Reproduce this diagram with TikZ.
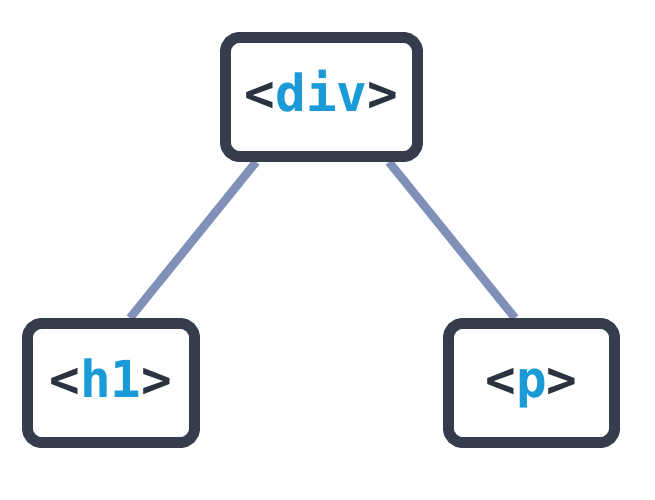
\documentclass[tikz,border=0pt]{standalone}
\usepackage{fontspec}
\setmonofont{DejaVu Sans Mono}
\usetikzlibrary{backgrounds}
\definecolor{boxdark}{HTML}{353D4D}
\definecolor{tagdark}{HTML}{2C3340}
\definecolor{tagblue}{HTML}{1A9BD7}
\definecolor{linkblue}{HTML}{8090B8}
\tikzset{
  tagbox/.style={draw=boxdark, line width=6.2pt, rounded corners=0.28cm, fill=white,
    minimum height=2.38cm, inner sep=0pt, text height=22pt, text depth=6pt,
    font=\ttfamily\bfseries\fontsize{29}{30}\selectfont},
  link/.style={draw=linkblue, line width=4.8pt}
}
\newcommand{\tagname}[1]{\textcolor{tagdark}{<}\textcolor{tagblue}{#1}\textcolor{tagdark}{>}}
\begin{document}
\begin{tikzpicture}
%\draw[step=0.5cm,gray,very thin] (0,0) grid (13,10);
\useasboundingbox (0,0) rectangle (13.1,9.98);

\node[tagbox, minimum width=3.84cm] (div) at (6.43,8.04) {\tagname{div}};
\node[tagbox, minimum width=3.34cm] (h1) at (2.22,2.32) {\tagname{h1}};
\node[tagbox, minimum width=3.32cm] (p) at (10.63,2.32) {\tagname{p}};

\begin{scope}[on background layer]
\draw[link] ([xshift=0.72cm]div.south west) -- ([xshift=0.38cm]h1.north);
\draw[link] ([xshift=-0.68cm]div.south east) -- ([xshift=-0.33cm]p.north);
\end{scope}

\end{tikzpicture}
\end{document}
